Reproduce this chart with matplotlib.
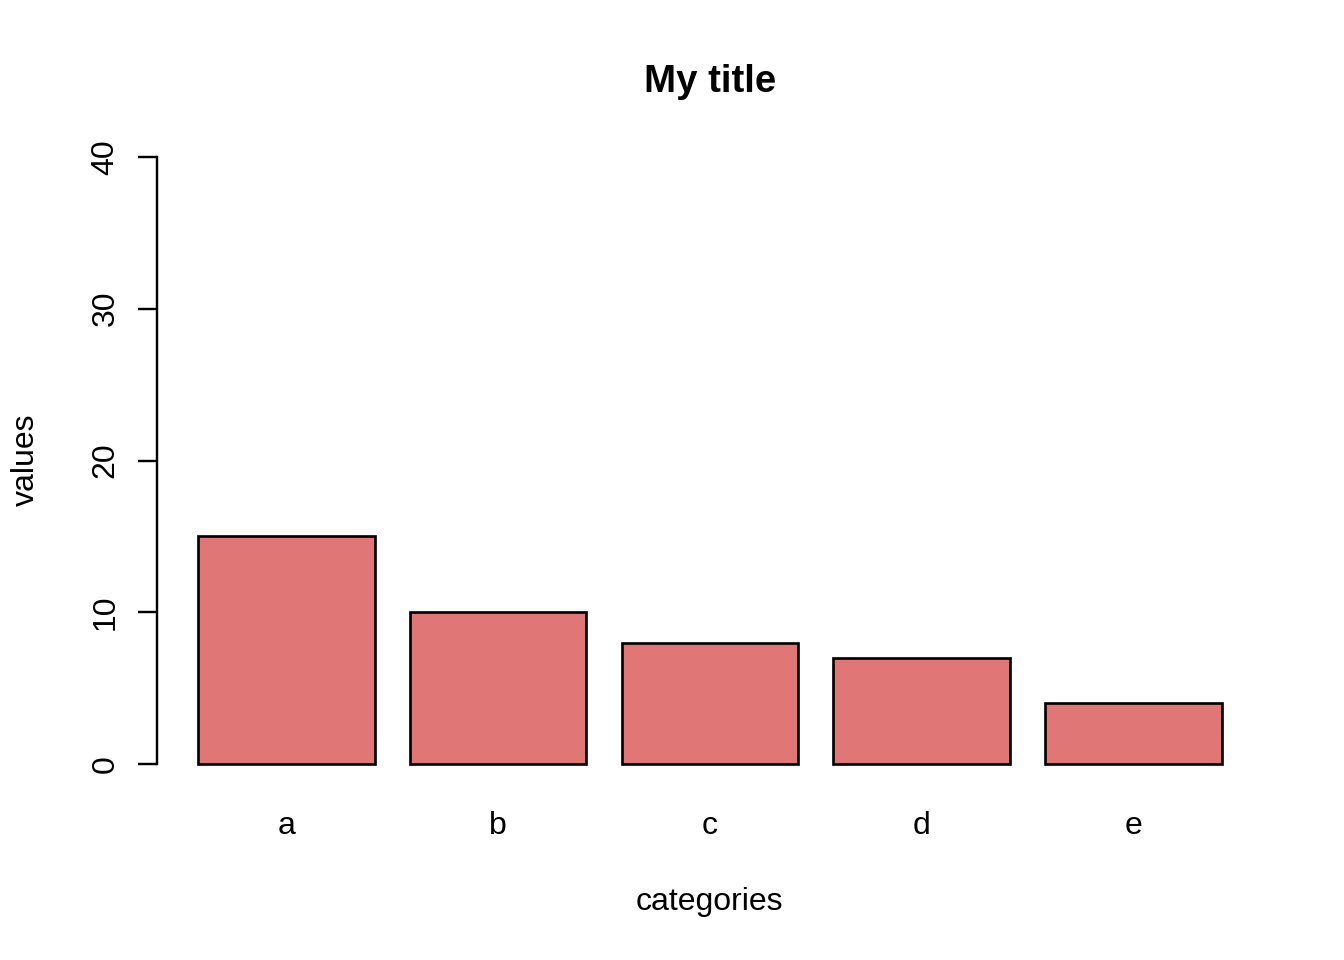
import matplotlib
matplotlib.use("Agg")
import matplotlib.pyplot as plt

categories = ["a", "b", "c", "d", "e"]
values = [15, 10, 8, 7, 4]
yticks = [0, 10, 20, 30, 40]

plt.rcParams['font.family'] = ['Liberation Sans', 'DejaVu Sans']

W, H = 1344, 960
fig = plt.figure(figsize=(7, 5), dpi=192)
left, right = 157.1 / W, 1262.5 / W
bottom, top = 1 - 788.3 / H, 1 - 132.7 / H
ax = fig.add_axes([left, bottom, right - left, top - bottom])

width = 1.0
space = 0.2
lefts = [space + i * (width + space) for i in range(len(values))]
centers = [l + width / 2 for l in lefts]
ax.bar(centers, values, width=width, color="#E07675", edgecolor="black", linewidth=1.0)

xmin, xmax = space, lefts[-1] + width
pad = 0.04 * (xmax - xmin)
ax.set_xlim(xmin - pad, xmax + pad)
ax.set_ylim(-1.6, 41.6)

for s in ["top", "right", "bottom"]:
    ax.spines[s].set_visible(False)
ax.spines["left"].set_bounds(0, 40)
ax.spines["left"].set_linewidth(0.9)

ax.set_yticks(yticks)
ax.set_yticklabels([str(t) for t in yticks], rotation=90, va="center", fontsize=12)
ax.tick_params(axis="y", length=7.2, width=0.9, pad=6.5)

ax.set_xticks(centers)
ax.set_xticklabels(categories, fontsize=12)
ax.tick_params(axis="x", length=0, pad=8.6)

fig.text(0.5 * (left + right), 1 - 82 / H, "My title", ha="center", va="center",
         fontsize=14.4, fontweight="bold")
fig.text(0.5 * (left + right), 1 - 902 / H, "categories", ha="center", va="center", fontsize=12)
fig.text(26 / W, 1 - 460 / H, "values", ha="center", va="center", rotation=90, fontsize=12)

fig.savefig("out.png", dpi=192)
